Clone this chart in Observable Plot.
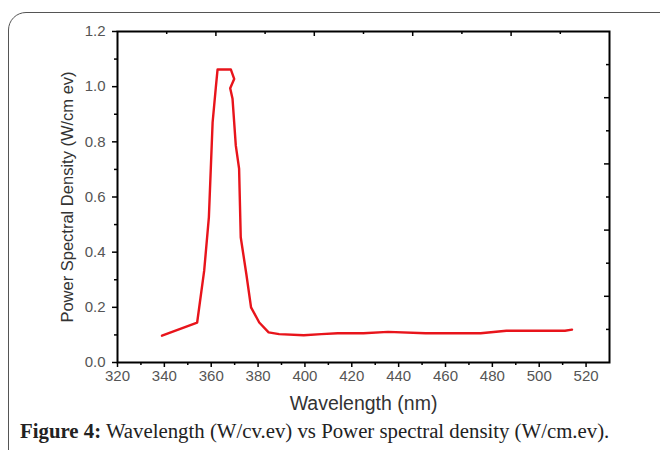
<!DOCTYPE html>
<html>
<head>
<meta charset="utf-8">
<script src="https://cdn.jsdelivr.net/npm/d3@7"></script>
<script src="https://cdn.jsdelivr.net/npm/@observablehq/plot@0.6"></script>
<style>
  html, body { margin: 0; padding: 0; background: #fff; width: 660px; height: 450px; overflow: hidden; }
  #frame { position: absolute; left: 8px; top: 12px; width: 720px; height: 520px; border: 1.5px solid #555; border-radius: 18px; }
  #chart { position: absolute; left: 0; top: 0; }
  #caption { position: absolute; left: 20px; top: 419px; font-family: "Liberation Serif", "DejaVu Serif", serif; font-size: 20.8px; color: #222; white-space: nowrap; }
  #caption b { font-weight: bold; }
</style>
</head>
<body>
<div id="frame"></div>
<div id="chart"></div>
<div id="caption"><b>Figure 4:</b> Wavelength (W/cv.ev) vs Power spectral density (W/cm.ev).</div>
<script>
// Data
const wavelength = [339, 354, 357, 359, 360.6, 362, 362.7, 368.4, 369.8, 368.1, 369.1, 370.5, 371.9, 372.6, 375, 377, 380.5, 384.5, 389, 399.5, 407, 414, 425, 435.5, 451.5, 475, 486, 511, 514];
const psd        = [0.097, 0.145, 0.333, 0.526, 0.871, 1.0, 1.062, 1.062, 1.028, 0.994, 0.956, 0.786, 0.703, 0.454, 0.32, 0.2, 0.145, 0.109, 0.103, 0.099, 0.103, 0.106, 0.106, 0.111, 0.106, 0.106, 0.115, 0.115, 0.119];

const xTicks = [320, 340, 360, 380, 400, 420, 440, 460, 480, 500, 520];
const xMinorTicks = [330, 350, 370, 390, 410, 430, 450, 470, 490, 510];
const yTicks = [0, 0.2, 0.4, 0.6, 0.8, 1.0, 1.2];
const yMinorTicks = [0.1, 0.3, 0.5, 0.7, 0.9, 1.1];
const topMajorTicks = [362, 404, 446, 488];
const topMinorTicks = [341, 383, 425, 467, 509];
const rightMajorTicks = [0.24, 0.48, 0.72, 0.96];
const rightMinorTicks = [0.12, 0.36, 0.6, 0.84, 1.08];

const xLabel = "Wavelength (nm)";
const yLabel = "Power Spectral Density (W/cm ev)";

const data = wavelength.map((w, i) => ({w, p: psd[i]}));

const W = 660, H = 420, mL = 117, mR = 51, mT = 31, mB = 58;
const innerW = W - mL - mR, innerH = H - mT - mB;

const chart = Plot.plot({
  width: W, height: H,
  marginLeft: mL, marginRight: mR, marginTop: mT, marginBottom: mB,
  x: {domain: [320, 530]},
  y: {domain: [0, 1.2]},
  style: {fontFamily: "'Liberation Sans', Arial, sans-serif", fontSize: "14px", background: "transparent"},
  marks: [
    Plot.axisX({ticks: xTicks, tickSize: 5, tickPadding: 3, stroke: "#000", fill: "#555", fontSize: 15, label: null, strokeWidth: 1.5}),
    Plot.axisX({ticks: xMinorTicks, tickSize: 3, tickFormat: () => "", stroke: "#000", label: null, strokeWidth: 1.5}),
    Plot.axisY({ticks: yTicks, tickSize: 5, tickPadding: 7, tickFormat: ".1f", stroke: "#000", fill: "#555", fontSize: 15, label: null, strokeWidth: 1.5}),
    Plot.axisY({ticks: yMinorTicks, tickSize: 3, tickFormat: () => "", stroke: "#000", label: null, strokeWidth: 1.5}),
    Plot.tickX(topMajorTicks, {x: d => d, stroke: "#000", strokeWidth: 1.5, insetBottom: innerH - 5}),
    Plot.tickX(topMinorTicks, {x: d => d, stroke: "#000", strokeWidth: 1.5, insetBottom: innerH - 3}),
    Plot.tickY(rightMajorTicks, {y: d => d, stroke: "#000", strokeWidth: 1.5, insetLeft: innerW - 5}),
    Plot.tickY(rightMinorTicks, {y: d => d, stroke: "#000", strokeWidth: 1.5, insetLeft: innerW - 3}),
    Plot.frame({stroke: "#000", strokeWidth: 2}),
    Plot.line(data, {x: "w", y: "p", stroke: "#e8141b", strokeWidth: 2.4, curve: "linear"}),
    Plot.text([xLabel], {text: d => d, frameAnchor: "bottom", dy: 47, fontSize: 19.5, fill: "#333"}),
    Plot.text([yLabel], {text: d => d, frameAnchor: "left", textAnchor: "middle", rotate: -90, dx: -50, fontSize: 16.5, fill: "#333"})
  ]
});
document.getElementById("chart").appendChild(chart);
</script>
</body>
</html>
